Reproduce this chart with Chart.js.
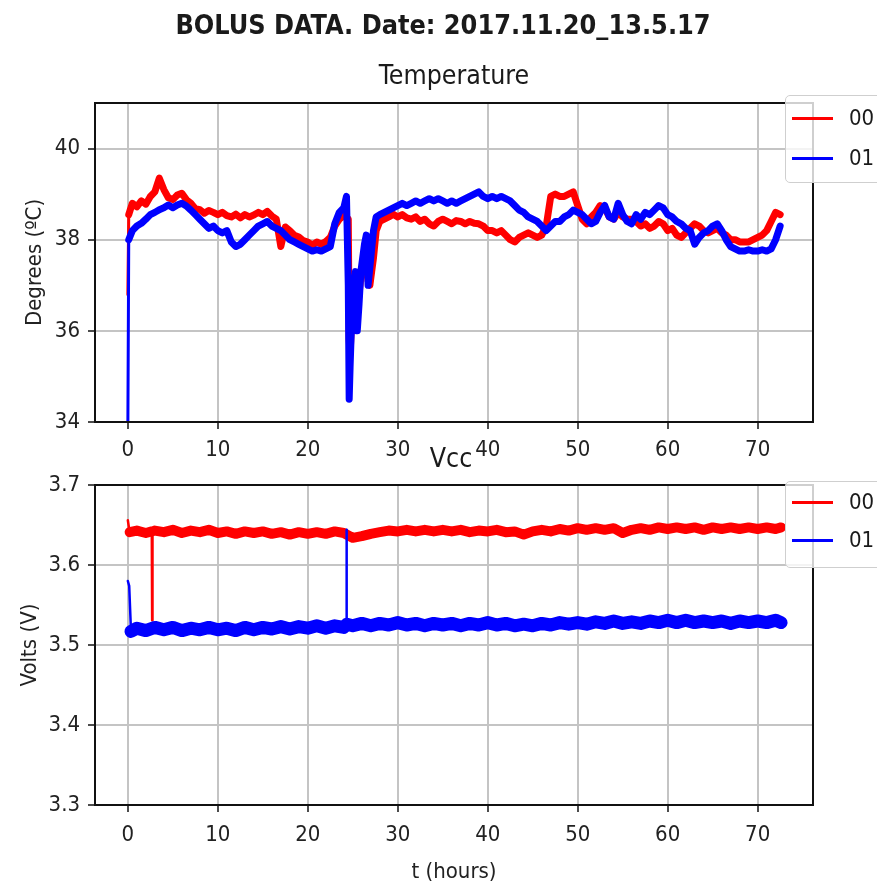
<!DOCTYPE html>
<html>
<head>
  <script src="https://cdn.jsdelivr.net/npm/chart.js@4.4.1/dist/chart.umd.min.js"></script>
  <style>
    body { margin: 0; width: 877px; height: 884px; overflow: hidden; background: #fff; position: relative;
           font-family: 'DejaVu Sans Condensed', 'DejaVu Sans', sans-serif; color: #1a1a1a; }
    .box { position: absolute; left: 0; width: 877px; }
    .txt { position: absolute; white-space: nowrap; transform: translateX(-50%); line-height: 1; }
    .legend { position: absolute; left: 785px; width: 120px; background: rgba(255,255,255,0.8);
              border: 1px solid #cfcfcf; border-radius: 5px; }
    .legend .line { position: absolute; left: 6px; width: 41px; height: 3px; }
    .legend .lab { position: absolute; left: 63px; font-size: 22px; line-height: 1; }
  </style>
</head>

<body>
  <div class="box" style="top:0; height:470px"><canvas id="temp"></canvas></div>
  <div class="box" style="top:440px; height:444px"><canvas id="vcc"></canvas></div>

  <div class="txt" style="left:443px; top:12px; font-size:26.8px; font-weight:bold">BOLUS DATA. Date: 2017.11.20_13.5.17</div>
  <div class="txt" style="left:454px; top:62px; font-size:26.5px">Temperature</div>
  <div class="txt" style="left:451px; top:445px; font-size:26.5px">Vcc</div>

  <div class="legend" style="top:95px; height:86px">
    <div class="line" style="top:21px; background:#ff0000"></div><div class="lab" style="top:11px">00</div>
    <div class="line" style="top:61px; background:#0000ff"></div><div class="lab" style="top:51px">01</div>
  </div>
  <div class="legend" style="top:481px; height:85px">
    <div class="line" style="top:19px; background:#ff0000"></div><div class="lab" style="top:9px">00</div>
    <div class="line" style="top:57px; background:#0000ff"></div><div class="lab" style="top:47px">01</div>
  </div>

  <script>
    // time axis ticks and value ticks
    var hourTicks = [0, 10, 20, 30, 40, 50, 60, 70];
    var tempTicks = [34, 36, 38, 40];
    var voltTicks = [3.3, 3.4, 3.5, 3.6, 3.7];

    // temperature, both sensors share the same sample hours
    var tempHours = [
      0, 0.1, 0.5, 1, 1.5, 2, 2.5, 3, 3.5, 4,
      4.5, 5, 5.5, 6, 6.5, 7, 7.5, 8, 8.5, 9,
      9.5, 10, 10.5, 11, 11.5, 12, 12.5, 13, 13.5, 14,
      14.5, 15, 15.5, 16, 16.5, 17, 17.5, 18, 18.5, 19,
      19.5, 20, 20.5, 21, 21.5, 22, 22.5, 23, 23.5, 24,
      24.3, 24.5, 24.6, 24.7, 24.9, 25.1, 25.3, 25.5, 25.7, 25.9,
      26.1, 26.3, 26.5, 26.7, 26.9, 27.1, 27.3, 27.6, 28, 28.5,
      29, 29.5, 30, 30.5, 31, 31.5, 32, 32.5, 33, 33.5,
      34, 34.5, 35, 35.5, 36, 36.5, 37, 37.5, 38, 38.5,
      39, 39.5, 40, 40.5, 41, 41.5, 42, 42.5, 43, 43.5,
      44, 44.5, 45, 45.5, 46, 46.5, 47, 47.5, 48, 48.5,
      49, 49.5, 50, 50.5, 51, 51.5, 52, 52.5, 53, 53.5,
      54, 54.5, 55, 55.5, 56, 56.5, 57, 57.5, 58, 58.5,
      59, 59.5, 60, 60.5, 61, 61.5, 62, 62.5, 63, 63.5,
      64, 64.5, 65, 65.5, 66, 66.5, 67, 67.5, 68, 68.5,
      69, 69.5, 70, 70.5, 71, 71.5, 72, 72.5
    ];
    var temp00 = [
      36.8, 38.55, 38.8, 38.72, 38.85, 38.78, 38.95, 39.05, 39.35, 39.1,
      38.92, 38.88, 38.98, 39.02, 38.88, 38.8, 38.68, 38.66, 38.58, 38.64,
      38.6, 38.55, 38.6, 38.53, 38.5, 38.56, 38.48, 38.55, 38.5, 38.54,
      38.6, 38.55, 38.62, 38.52, 38.45, 37.85, 38.28, 38.2, 38.1, 38.06,
      37.98, 37.95, 37.88, 37.95, 37.9, 37.96, 38.05, 38.3, 38.45, 38.52,
      38.5, 38.45, 35.8, 35.5, 36.3, 36.6, 36.9, 36.5, 36.8, 37.2,
      37.4, 37.6, 37.5, 37.1, 37.0, 37.3, 37.6, 38.2, 38.4, 38.45,
      38.5, 38.56, 38.5, 38.55, 38.48, 38.45, 38.5, 38.4, 38.45, 38.35,
      38.3, 38.4, 38.45, 38.4, 38.35, 38.42, 38.4, 38.35, 38.4, 38.36,
      38.35, 38.3, 38.2, 38.2, 38.15, 38.2, 38.1, 38.0, 37.95, 38.05,
      38.1, 38.15, 38.1, 38.05, 38.1, 38.3, 38.95, 39.0, 38.95, 38.95,
      39.0, 39.05, 38.75, 38.45, 38.35, 38.5, 38.6, 38.75, 38.7, 38.5,
      38.45, 38.6, 38.5, 38.45, 38.45, 38.4, 38.3, 38.35, 38.25, 38.3,
      38.4, 38.35, 38.2, 38.25, 38.1, 38.05, 38.15, 38.25, 38.35, 38.3,
      38.2, 38.15, 38.2, 38.25, 38.15, 38.1, 38.0, 38.0, 37.95, 37.95,
      37.95, 38.0, 38.05, 38.1, 38.2, 38.4, 38.6, 38.55
    ];
    var temp01 = [
      33.8, 38.0, 38.2, 38.3, 38.36, 38.45, 38.55, 38.6, 38.66, 38.7,
      38.76, 38.7, 38.76, 38.8, 38.74, 38.65, 38.55, 38.45, 38.35, 38.25,
      38.3, 38.2, 38.15, 38.2, 37.95, 37.85, 37.9, 38.0, 38.1, 38.2,
      38.3, 38.35, 38.4, 38.3, 38.25, 38.2, 38.1, 38.0, 37.95, 37.9,
      37.85, 37.8, 37.75, 37.78, 37.75, 37.8, 37.85, 38.35, 38.6, 38.7,
      38.95, 37.0, 34.5, 35.2, 36.4, 36.9, 37.3, 36.0, 36.6, 37.3,
      37.6, 37.9, 38.1, 37.0, 37.4, 37.8, 38.2, 38.5, 38.55, 38.6,
      38.65, 38.7, 38.75, 38.8, 38.75, 38.8, 38.85, 38.8, 38.85, 38.9,
      38.85, 38.9, 38.85, 38.8, 38.85, 38.8, 38.85, 38.9, 38.95, 39.0,
      39.05, 38.95, 38.9, 38.95, 38.9, 38.95, 38.9, 38.85, 38.75, 38.65,
      38.6, 38.5, 38.45, 38.4, 38.3, 38.2, 38.3, 38.4, 38.4, 38.5,
      38.55, 38.65, 38.6, 38.55, 38.45, 38.35, 38.4, 38.6, 38.75, 38.5,
      38.45, 38.8, 38.55, 38.4, 38.35, 38.55, 38.45, 38.6, 38.55, 38.65,
      38.75, 38.7, 38.55, 38.5, 38.4, 38.35, 38.25, 38.2, 37.9, 38.05,
      38.15, 38.2, 38.3, 38.35, 38.2, 38.0, 37.85, 37.8, 37.75, 37.75,
      37.78, 37.75, 37.75, 37.78, 37.75, 37.8, 38.0, 38.3
    ];

    // supply voltage, sensor 00
    var vccHours00 = [
      0, 0.2, 1, 2, 2.66, 2.7, 2.74,
      3, 4, 5, 6, 7, 8, 9, 10, 11, 12,
      13, 14, 15, 16, 17, 18, 19, 20, 21, 22,
      23, 24, 25, 26, 27, 28, 29, 30, 31, 32,
      33, 34, 35, 36, 37, 38, 39, 40, 41, 42,
      43, 44, 45, 46, 47, 48, 49, 50, 51, 52,
      53, 54, 55, 56, 57, 58, 59, 60, 61, 62,
      63, 64, 65, 66, 67, 68, 69, 70, 71, 72, 72.6
    ];
    var vcc00 = [
      3.656, 3.641, 3.643, 3.640, 3.642, 3.531, 3.641,
      3.643, 3.641, 3.644, 3.640, 3.643, 3.641, 3.644, 3.640, 3.642, 3.639,
      3.642, 3.640, 3.642, 3.639, 3.641, 3.638, 3.641, 3.639, 3.641, 3.639,
      3.642, 3.640, 3.634, 3.636, 3.639, 3.641, 3.643, 3.642, 3.644, 3.642,
      3.644, 3.642, 3.644, 3.642, 3.644, 3.641, 3.643, 3.642, 3.644, 3.641,
      3.642, 3.638, 3.642, 3.644, 3.642, 3.645, 3.643, 3.646, 3.644, 3.646,
      3.644, 3.646, 3.640, 3.644, 3.646, 3.644, 3.647, 3.645, 3.647, 3.645,
      3.647, 3.644, 3.647, 3.645, 3.647, 3.645, 3.647, 3.645, 3.647, 3.645, 3.647
    ];

    // supply voltage, sensor 01
    var vccHours01 = [
      0, 0.15, 0.35,
      1, 2, 3, 4, 5, 6, 7, 8, 9, 10, 11, 12,
      13, 14, 15, 16, 17, 18, 19, 20, 21, 22, 23, 24,
      24.26, 24.3, 24.34,
      25, 26, 27, 28, 29, 30, 31, 32, 33, 34,
      35, 36, 37, 38, 39, 40, 41, 42, 43, 44,
      45, 46, 47, 48, 49, 50, 51, 52, 53, 54,
      55, 56, 57, 58, 59, 60, 61, 62, 63, 64,
      65, 66, 67, 68, 69, 70, 71, 72, 72.6
    ];
    var vcc01 = [
      3.580, 3.574, 3.517,
      3.521, 3.518, 3.522, 3.519, 3.522, 3.518, 3.521, 3.519, 3.522, 3.519, 3.521, 3.518,
      3.522, 3.519, 3.522, 3.520, 3.523, 3.520, 3.523, 3.521, 3.524, 3.521, 3.524, 3.522,
      3.523, 3.644, 3.526,
      3.524, 3.527, 3.524, 3.527, 3.525, 3.528, 3.525, 3.527, 3.524, 3.527,
      3.525, 3.527, 3.524, 3.527, 3.525, 3.528, 3.525, 3.527, 3.524, 3.526,
      3.524, 3.527, 3.525, 3.528, 3.526, 3.528, 3.526, 3.529, 3.527, 3.530,
      3.527, 3.529, 3.527, 3.530, 3.528, 3.531, 3.528, 3.531, 3.528, 3.530,
      3.528, 3.530, 3.527, 3.530, 3.528, 3.530, 3.528, 3.531, 3.528
    ];

    var FONT = "'DejaVu Sans Condensed', 'DejaVu Sans', sans-serif";
    Chart.defaults.font.family = FONT;
    Chart.defaults.font.size = 22;
    Chart.defaults.color = '#222';

    function pairs(xs, ys) {
      return xs.map(function (x, i) { return {x: x, y: ys[i]}; });
    }

    // matplotlib style box round the plot area
    var frame = {
      id: 'frame',
      afterDatasetsDraw: function (chart) {
        var a = chart.chartArea, ctx = chart.ctx;
        ctx.save();
        ctx.strokeStyle = '#111';
        ctx.lineWidth = 2;
        ctx.strokeRect(a.left, a.top, a.right - a.left, a.bottom - a.top);
        ctx.restore();
      }
    };

    function axes(yMin, yMax, yTicks, yTitle, yTitlePad, xTitle, xHeight, xPad, fmt) {
      return {
        x: {
          type: 'linear', min: -3.65, max: 76.15,
          afterBuildTicks: function (s) { s.ticks = hourTicks.map(function (v) { return {value: v}; }); },
          afterFit: function (s) { s.height = xHeight; },
          grid: { color: '#c4c4c4', lineWidth: 2, tickLength: 7, tickColor: '#111', tickWidth: 1.5 },
          border: { display: false },
          ticks: { padding: xPad, maxRotation: 0 },
          title: { display: !!xTitle, text: xTitle, font: { size: 22, lineHeight: 1 }, padding: { top: 0, bottom: 1 } }
        },
        y: {
          min: yMin, max: yMax,
          afterBuildTicks: function (s) { s.ticks = yTicks.map(function (v) { return {value: v}; }); },
          afterFit: function (s) { s.width = 95; },
          grid: { color: '#c4c4c4', lineWidth: 2, tickLength: 7, tickColor: '#111', tickWidth: 1.5 },
          border: { display: false },
          ticks: { padding: 8, callback: fmt },
          title: { display: true, text: yTitle, font: { size: 22, lineHeight: 1 }, padding: { top: yTitlePad, bottom: 0 } }
        }
      };
    }

    new Chart(document.getElementById('temp'), {
      type: 'line',
      data: {
        datasets: [
          { label: '00', data: pairs(tempHours, temp00), borderColor: '#ff0000', borderWidth: 7, order: 1,
            segment: { borderWidth: function (c) { return c.p0DataIndex === 0 ? 3 : undefined; } } },
          { label: '01', data: pairs(tempHours, temp01), borderColor: '#0000ff', borderWidth: 7, order: 0,
            segment: { borderWidth: function (c) { return c.p0DataIndex === 0 ? 3 : undefined; } } }
        ]
      },
      options: {
        responsive: true, maintainAspectRatio: false, animation: false,
        layout: { padding: { top: 103, right: 64, left: 0, bottom: 0 } },
        elements: { point: { radius: 0 }, line: { tension: 0, borderJoinStyle: 'round', borderCapStyle: 'round' } },
        plugins: { legend: { display: false }, tooltip: { enabled: false } },
        scales: axes(34, 41, tempTicks, 'Degrees (\u00baC)', 24, '', 48, 8, function (v) { return v; })
      },
      plugins: [frame]
    });

    function thin(c) { return c.p1.parsed.x - c.p0.parsed.x < 0.3 ? 2.5 : undefined; }

    new Chart(document.getElementById('vcc'), {
      type: 'line',
      data: {
        datasets: [
          { label: '00', data: pairs(vccHours00, vcc00), borderColor: '#ff0000', borderWidth: 10, order: 1,
            segment: { borderWidth: thin } },
          { label: '01', data: pairs(vccHours01, vcc01), borderColor: '#0000ff', borderWidth: 13, order: 0,
            segment: { borderWidth: thin } }
        ]
      },
      options: {
        responsive: true, maintainAspectRatio: false, animation: false,
        layout: { padding: { top: 45, right: 64, left: 0, bottom: 0 } },
        elements: { point: { radius: 0 }, line: { tension: 0, borderJoinStyle: 'round', borderCapStyle: 'round' } },
        plugins: { legend: { display: false }, tooltip: { enabled: false } },
        scales: axes(3.3, 3.7, voltTicks, 'Volts (V)', 19, 't (hours)', 79, 10, function (v) { return v.toFixed(1); })
      },
      plugins: [frame]
    });
  </script>
</body>
</html>
